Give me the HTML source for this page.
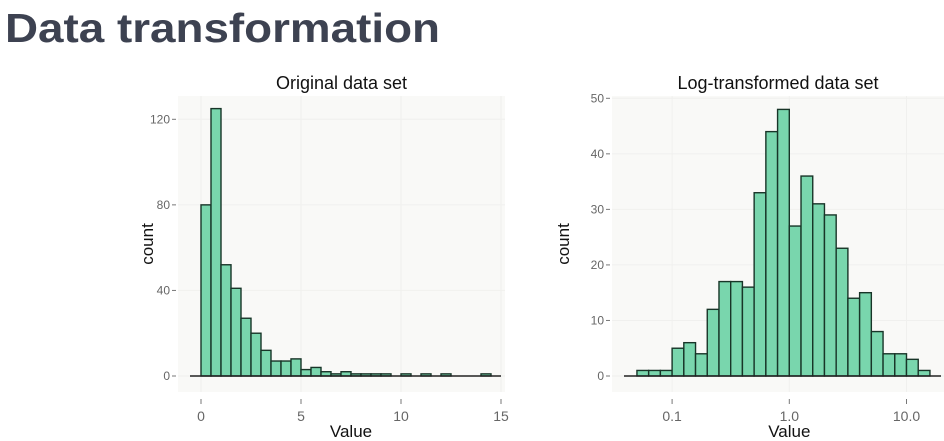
<!DOCTYPE html>
<html><head><meta charset="utf-8"><style>
html,body{margin:0;padding:0;background:#fff;width:944px;height:441px;overflow:hidden}
svg{display:block;font-family:"Liberation Sans",sans-serif}
</style></head><body>
<svg id="s" width="944" height="441">
<text x="5" y="42" font-size="41" font-weight="bold" fill="#3d4251" textLength="435" lengthAdjust="spacingAndGlyphs">Data transformation</text>
<g id="left"></g>
<g id="right"></g>
</svg>
<script>
// Original data set: bins of width 0.5 starting at 0
const origCounts = [80,125,52,41,27,20,12,7,7,8,3,4,2,1,2,1,1,1,1,0,1,0,1,0,1,0,0,0,1];
const origXTicks = [0,5,10,15];
const origYTicks = [0,40,80,120];
// Log-transformed: bins of 0.1 decade starting at log10 = -1.3
const logCounts = [1,1,1,5,6,4,12,17,17,16,33,44,48,27,36,31,29,23,14,15,8,4,4,3,1];
const logXTicks = ["0.1","1.0","10.0"];
const logYTicks = [0,10,20,30,40,50];

const NS="http://www.w3.org/2000/svg";
function mk(parent,tag,attrs,text){const e=document.createElementNS(NS,tag);for(const k in attrs)e.setAttribute(k,attrs[k]);if(text!==undefined)e.textContent=text;parent.appendChild(e);return e;}

function panel(g,o){
  const bg=mk(g,'rect',{x:o.px0,y:o.py0,width:o.px1-o.px0,height:o.py1-o.py0,fill:'#f9f9f7'});
  
  
  o.yTicks.forEach(v=>{const y=o.ys(v);
    mk(g,'line',{x1:o.px0,x2:o.px1,y1:y,y2:y,stroke:'#f0f0ee','stroke-width':1});
    mk(g,'line',{x1:o.px0-6,x2:o.px0-2,y1:y,y2:y,stroke:'#777','stroke-width':1});
    const t=mk(g,'text',{x:o.px0-8,y:y+4,'font-size':12,fill:'#666','text-anchor':'end'},String(v));
    
    
  });
  o.xTicks.forEach(v=>{const x=o.xs(v);
    mk(g,'line',{x1:x,x2:x,y1:o.py0,y2:o.py1,stroke:'#f0f0ee','stroke-width':1});
    mk(g,'line',{x1:x,x2:x,y1:o.py1+7,y2:o.py1+12,stroke:'#777','stroke-width':1});
    const t=mk(g,'text',{x:x,y:o.py1+29,'font-size':14,fill:'#666','text-anchor':'middle'},String(v));
    
    
  });
  const tt=mk(g,'text',{x:(o.px0+o.px1)/2,y:89,'font-size':18,fill:'#111','text-anchor':'middle'},o.title);
  
  
  const xl=mk(g,'text',{x:o.xs(o.xMid),y:437,'font-size':17,fill:'#111','text-anchor':'middle'},'Value');
  
  
  const yl=mk(g,'text',{x:0,y:0,'font-size':17,fill:'#111','text-anchor':'middle',transform:`translate(${o.ylx},${(o.py0+o.py1)/2}) rotate(-90)`},'count');
  
  
}

// Left
(function(){
  const g=document.getElementById('left');
  const xs=v=>201+v*20, ys=v=>376-v*(256.7/120);
  panel(g,{px0:178,px1:505,py0:96,py1:392,xs,ys,xTicks:origXTicks,yTicks:origYTicks,title:'Original data set',xMid:7.5,ylx:153});
  origCounts.forEach((c,i)=>{ if(c<=0) return;
    const x0=xs(i*0.5),x1=xs(i*0.5+0.5);
    const r=mk(g,'rect',{x:x0,y:ys(c),width:x1-x0,height:ys(0)-ys(c),fill:'#79d6ad',stroke:'#183528','stroke-width':1.4});
    
    
  });
  mk(g,'line',{x1:190,x2:501,y1:376,y2:376,stroke:'#222','stroke-width':1.5});
})();

// Right
(function(){
  const g=document.getElementById('right');
  const lx=l=>789.3+l*117.2;
  const xs=v=>lx(Math.log10(parseFloat(v)));
  const ys=v=>376-v*(277.7/50);
  panel(g,{px0:612,px1:944,py0:96,py1:392,xs,ys,xTicks:logXTicks,yTicks:logYTicks,title:'Log-transformed data set',xMid:1,ylx:569});
  logCounts.forEach((c,i)=>{ if(c<=0) return;
    const x0=lx(-1.3+i*0.1),x1=lx(-1.2+i*0.1);
    const r=mk(g,'rect',{x:x0,y:ys(c),width:x1-x0,height:ys(0)-ys(c),fill:'#79d6ad',stroke:'#183528','stroke-width':1.4});
    
    
  });
  mk(g,'line',{x1:624,x2:941,y1:376,y2:376,stroke:'#222','stroke-width':1.5});
})();
</script>
</body></html>
